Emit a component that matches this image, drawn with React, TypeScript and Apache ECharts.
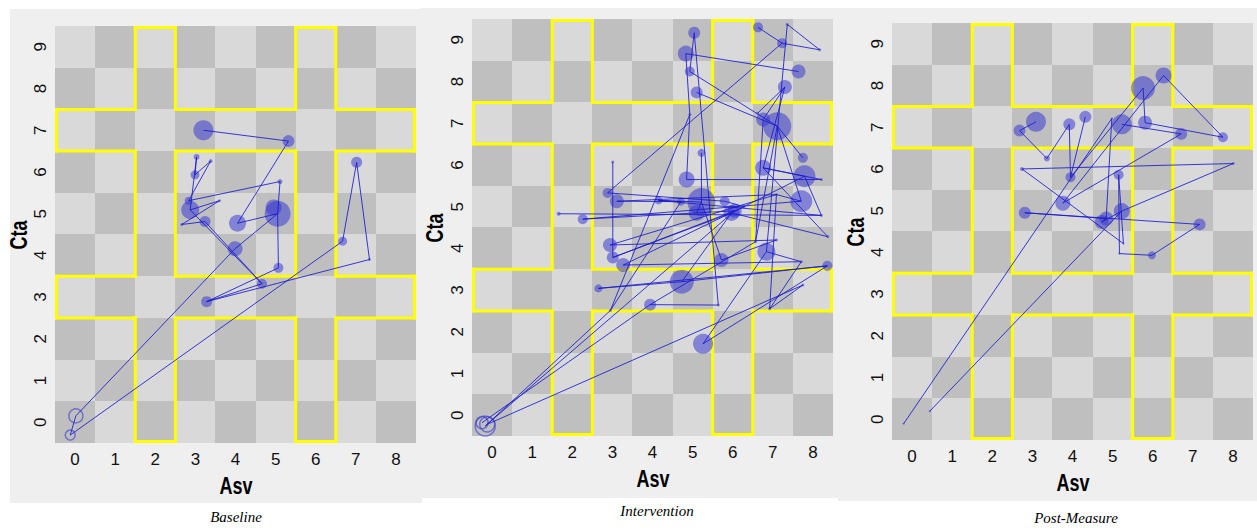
import React, { useEffect, useRef } from 'react';
import * as echarts from 'echarts';

type Pt = [string, number, number, number];

const xTickValues = [0, 1, 2, 3, 4, 5, 6, 7, 8];
const yTickValues = [0, 1, 2, 3, 4, 5, 6, 7, 8, 9];
const panelTitles = ['Baseline', 'Intervention', 'Post-Measure'];
const xAxisName = 'Asv';
const yAxisName = 'Cta';

// Bands of the board (columns and rows outlined in yellow)
const bandColumns = [2, 6];
const bandRows = [3, 7];

// ---------- Baseline ----------
const baselineOpen: Pt[] = [
  ['A', 0.02, 0.15, 14],
  ['B', -0.12, -0.31, 10],
];
const baselineDots: Pt[] = [
  ['C', 3.2, 7.0, 20],
  ['D', 5.32, 6.74, 12],
  ['E', 4.05, 4.77, 17],
  ['F', 5.05, 5.0, 26],
  ['F2', 4.95, 5.15, 16],
  ['G', 5.07, 3.7, 10],
  ['H', 3.28, 2.89, 11],
  ['I', 4.66, 3.32, 10],
  ['J', 3.99, 4.16, 15],
  ['K', 2.87, 5.09, 18],
  ['L', 2.83, 5.31, 8],
  ['M', 3.24, 4.81, 11],
  ['N', 3.03, 6.36, 6],
  ['O', 2.99, 5.93, 9],
  ['P', 3.38, 6.26, 4],
  ['Q', 5.11, 5.77, 5],
  ['R', 3.6, 5.31, 3],
  ['S', 2.66, 4.74, 3],
  ['T', 7.02, 6.23, 11],
  ['U', 6.67, 4.34, 9],
  ['V', 7.34, 3.9, 3],
];
const baselinePaths: string[][] = [
  ['C', 'D', 'E', 'F', 'G', 'H', 'V', 'T', 'U', 'B', 'A', 'J', 'F', 'Q', 'L', 'P', 'O', 'N', 'K', 'R', 'S', 'M', 'I'],
  ['K', 'I'],
  ['H', 'I'],
];

// ---------- Intervention ----------
const interventionOpen: Pt[] = [
  ['o1', -0.17, -0.26, 20],
  ['o2', -0.25, -0.18, 12],
  ['o3', -0.12, -0.22, 15],
];
const interventionDots: Pt[] = [
  ['a', 2.95, 2.51, 3],
  ['b', 3.01, 6.07, 3],
  ['c', 3.01, 3.78, 12],
  ['d', 1.66, 4.83, 4],
  ['e', 2.26, 4.7, 10],
  ['f', 2.88, 5.33, 10],
  ['g', 3.11, 5.13, 14],
  ['h', 2.94, 4.08, 14],
  ['i', 3.27, 3.6, 14],
  ['j', 2.65, 3.04, 8],
  ['k', 3.94, 2.65, 12],
  ['l', 5.64, 2.64, 3],
  ['m', 4.85, 5.65, 16],
  ['n', 5.22, 5.11, 28],
  ['o', 5.1, 4.85, 16],
  ['p', 5.8, 5.13, 10],
  ['q', 5.97, 4.85, 16],
  ['r', 5.72, 3.72, 14],
  ['s', 4.73, 3.2, 24],
  ['t', 6.84, 3.92, 18],
  ['u', 6.76, 5.93, 16],
  ['v', 7.79, 5.73, 22],
  ['w', 7.71, 5.13, 22],
  ['x', 8.21, 4.79, 3],
  ['y', 8.36, 3.58, 10],
  ['z', 8.37, 4.28, 3],
  ['A', 7.71, 3.68, 3],
  ['B', 7.75, 3.12, 3],
  ['C', 7.75, 6.17, 10],
  ['D', 7.09, 5.29, 3],
  ['E', 5.22, 6.29, 8],
  ['F', 6.57, 4.16, 3],
  ['G', 7.09, 4.2, 3],
  ['H', 6.92, 2.55, 3],
  ['I', 5.04, 9.17, 12],
  ['J', 4.83, 8.67, 16],
  ['K', 4.93, 8.24, 10],
  ['L', 5.1, 7.74, 12],
  ['M', 6.63, 9.3, 10],
  ['N', 7.23, 8.92, 10],
  ['O', 7.36, 9.37, 3],
  ['P', 8.17, 8.76, 3],
  ['Q', 7.64, 8.24, 14],
  ['R', 7.3, 7.87, 14],
  ['S', 7.11, 6.93, 28],
  ['T', 6.76, 7.09, 14],
  ['U', 6.62, 7.24, 3],
  ['V', 4.93, 7.21, 3],
  ['W', 8.21, 5.65, 3],
  ['X', 5.26, 1.71, 20],
  ['Y', 4.15, 5.15, 8],
  ['Z', 4.71, 5.12, 8],
  ['AA', 6.28, 5.0, 3],
  ['AB', 6.05, 4.9, 14],
];
const interventionPaths: string[][] = [
  ['o1', 'a', 'V', 'J', 'Q'],
  ['I', 'l', 'k', 'o2'],
  ['K', 'S', 'C'],
  ['o3', 'B', 'H', 'A', 't', 'X', 'y', 's', 'j'],
  ['d', 'x'],
  ['e', 'w', 'D', 'g'],
  ['f', 'p', 'AA', 'i'],
  ['h', 'G', 'r', 'n', 'o'],
  ['b', 'c', 'q', 'z'],
  ['m', 'W', 'u', 'v'],
  ['M', 'N', 'P', 'O', 't'],
  ['L', 'S', 'w'],
  ['E', 'n', 'Y', 'Z'],
  ['U', 'R', 'T', 'F'],
  ['o1', 'AB'],
  ['N', 'f'],
  ['V', 'm'],
  ['I', 'K'],
  ['i', 'A'],
  ['j', 'y'],
  ['Y', 'x'],
  ['e', 'AB', 'c'],
  ['k', 'F', 'S'],
  ['a', 'Z', 'g'],
  ['s', 'q', 'v', 'x'],
  ['R', 'u', 'z'],
  ['h', 'D', 'H'],
];

// ---------- Post-Measure ----------
const postOpen: Pt[] = [];
const postDots: Pt[] = [
  ['a', -0.21, -0.11, 2],
  ['b', 0.44, 0.19, 2],
  ['c', 3.09, 7.13, 20],
  ['d', 2.68, 6.92, 12],
  ['e', 3.36, 6.25, 6],
  ['f', 3.92, 7.07, 12],
  ['g', 4.32, 7.25, 12],
  ['h', 3.95, 5.8, 10],
  ['i', 2.74, 6.0, 4],
  ['j', 8.01, 6.13, 3],
  ['k', 3.76, 5.18, 15],
  ['l', 2.81, 4.95, 12],
  ['m', 7.17, 4.67, 12],
  ['n', 5.98, 3.93, 8],
  ['o', 5.17, 3.97, 2],
  ['p', 5.15, 5.86, 10],
  ['q', 5.23, 4.99, 16],
  ['r', 4.84, 4.81, 14],
  ['s', 4.73, 4.73, 14],
  ['t', 5.27, 4.21, 2],
  ['u', 4.98, 7.21, 2],
  ['v', 5.23, 7.07, 20],
  ['w', 5.76, 7.94, 24],
  ['x', 6.27, 8.24, 16],
  ['y', 5.81, 7.11, 14],
  ['z', 6.71, 6.84, 12],
  ['aa', 7.75, 6.76, 10],
];
const postPaths: string[][] = [
  ['c', 'd', 'e', 'f', 'h', 'g'],
  ['h', 'w', 'y', 'aa', 'x', 'k', 'z', 'v'],
  ['a', 'u', 'r', 'l', 'm', 'n', 'o', 'p', 't', 'i', 'j', 'q', 'b'],
  ['r', 's', 'q'],
];

const panels = [
  { open: baselineOpen, dots: baselineDots, paths: baselinePaths },
  { open: interventionOpen, dots: interventionDots, paths: interventionPaths },
  { open: postOpen, dots: postDots, paths: postPaths },
];

// layout (pixels)
const gridBoxes = [
  { left: 55, top: 26, width: 361, height: 417 },
  { left: 472, top: 19, width: 361, height: 417 },
  { left: 892, top: 23, width: 361, height: 417 },
];
const panelBackgrounds = [
  { x: 10, y: 9, width: 412, height: 494 },
  { x: 420, y: 8, width: 418, height: 490 },
  { x: 838, y: 8, width: 419, height: 493 },
];
const captionPositions = [
  [236, 517],
  [657, 511],
  [1076, 518],
];
const xNamePositions = [
  [236, 486],
  [653, 479],
  [1073, 483],
];
const yNamePositions = [
  [19, 235],
  [435, 228],
  [856, 232],
];

const X_MIN = -0.5, X_MAX = 8.5, Y_MIN = -0.5, Y_MAX = 9.5;
const LIGHT = '#d9d9d9';
const DARK = '#bfbfbf';
const YELLOW = '#ffff00';
const DOT_FILL = 'rgba(55,55,210,0.66)';
const LINE_COLOR = '#1a1ad0';
const SANS = '"Liberation Sans", Arial, sans-serif';

function checkerCells() {
  const cells: number[][] = [];
  xTickValues.forEach((x) => {
    yTickValues.forEach((y) => {
      cells.push([x, y, (x + y) % 2]);
    });
  });
  return cells;
}

function yellowSegments() {
  const xs = [X_MIN, bandColumns[0] - 0.5, bandColumns[0] + 0.5, bandColumns[1] - 0.5, bandColumns[1] + 0.5, X_MAX];
  const ys = [Y_MIN, bandRows[0] - 0.5, bandRows[0] + 0.5, bandRows[1] - 0.5, bandRows[1] + 0.5, Y_MAX];
  const blockX = [[xs[0], xs[1]], [xs[2], xs[3]], [xs[4], xs[5]]];
  const blockY = [[ys[0], ys[1]], [ys[2], ys[3]], [ys[4], ys[5]]];
  const segs: number[][] = [];
  blockX.forEach(([x0, x1]) => {
    blockY.forEach(([y0, y1]) => {
      if (x0 !== X_MIN) segs.push([x0, y0, x0, y1]);
      if (x1 !== X_MAX) segs.push([x1, y0, x1, y1]);
      if (y0 !== Y_MIN) segs.push([x0, y0, x1, y0]);
      if (y1 !== Y_MAX) segs.push([x0, y1, x1, y1]);
    });
  });
  bandColumns.forEach((c) => {
    segs.push([c - 0.5, Y_MAX, c + 0.5, Y_MAX]);
    segs.push([c - 0.5, Y_MIN, c + 0.5, Y_MIN]);
  });
  bandRows.forEach((r) => {
    segs.push([X_MIN, r - 0.5, X_MIN, r + 0.5]);
    segs.push([X_MAX, r - 0.5, X_MAX, r + 0.5]);
  });
  return segs;
}

function buildOption() {
  const grid: any[] = [];
  const xAxis: any[] = [];
  const yAxis: any[] = [];
  const series: any[] = [];
  const cells = checkerCells();
  const segs = yellowSegments();

  const labelCommon = {
    showMinLabel: false,
    showMaxLabel: false,
    formatter: (v: number) => (Number.isInteger(v) ? String(v) : ''),
    fontSize: 17,
    color: '#111',
    fontFamily: SANS,
  };

  panels.forEach((panel, idx) => {
    grid.push({ ...gridBoxes[idx], containLabel: false });
    xAxis.push({
      type: 'value',
      gridIndex: idx,
      min: X_MIN,
      max: X_MAX,
      splitNumber: 9,
      minInterval: 1,
      maxInterval: 1,
      axisLine: { show: false },
      axisTick: { show: false },
      splitLine: { show: false },
      axisLabel: { ...labelCommon, margin: 8 },
    });
    yAxis.push({
      type: 'value',
      gridIndex: idx,
      min: Y_MIN,
      max: Y_MAX,
      splitNumber: 10,
      minInterval: 1,
      maxInterval: 1,
      axisLine: { show: false },
      axisTick: { show: false },
      splitLine: { show: false },
      axisLabel: { ...labelCommon, rotate: 90, margin: 6 },
    });

    series.push({
      type: 'custom',
      xAxisIndex: idx,
      yAxisIndex: idx,
      silent: true,
      z: 1,
      data: cells,
      encode: { x: 0, y: 1 },
      renderItem: (_p: any, api: any) => {
        const x = api.value(0);
        const y = api.value(1);
        const p1 = api.coord([x - 0.5, y + 0.5]);
        const p2 = api.coord([x + 0.5, y - 0.5]);
        const x0 = Math.round(p1[0]);
        const y0 = Math.round(p1[1]);
        return {
          type: 'rect',
          shape: { x: x0, y: y0, width: Math.round(p2[0]) - x0, height: Math.round(p2[1]) - y0 },
          style: { fill: api.value(2) === 0 ? DARK : LIGHT },
        };
      },
    });

    series.push({
      type: 'custom',
      xAxisIndex: idx,
      yAxisIndex: idx,
      silent: true,
      z: 2,
      data: segs,
      encode: { x: [0, 2], y: [1, 3] },
      renderItem: (params: any, api: any) => {
        const cs = params.coordSys;
        const inset = 1.5;
        const clampX = (v: number) => Math.min(Math.max(v, cs.x + inset), cs.x + cs.width - inset);
        const clampY = (v: number) => Math.min(Math.max(v, cs.y + inset), cs.y + cs.height - inset);
        const a = api.coord([api.value(0), api.value(1)]);
        const b = api.coord([api.value(2), api.value(3)]);
        return {
          type: 'line',
          shape: { x1: clampX(a[0]), y1: clampY(a[1]), x2: clampX(b[0]), y2: clampY(b[1]) },
          style: { stroke: YELLOW, lineWidth: 3, lineCap: 'square' },
        };
      },
    });

    series.push({
      type: 'scatter',
      xAxisIndex: idx,
      yAxisIndex: idx,
      silent: true,
      z: 3,
      symbolSize: (v: number[]) => v[2],
      itemStyle: { color: DOT_FILL },
      data: panel.dots.map((p) => [p[1], p[2], p[3]]),
    });

    if (panel.open.length) {
      series.push({
        type: 'scatter',
        xAxisIndex: idx,
        yAxisIndex: idx,
        silent: true,
        z: 3,
        symbolSize: (v: number[]) => v[2],
        itemStyle: { color: 'rgba(0,0,0,0)', borderColor: 'rgba(60,60,210,0.75)', borderWidth: 1.5 },
        data: panel.open.map((p) => [p[1], p[2], p[3]]),
      });
    }

    const lookup = new Map<string, number[]>();
    [...panel.open, ...panel.dots].forEach((p) => lookup.set(p[0], [p[1], p[2]]));
    panel.paths.forEach((path) => {
      series.push({
        type: 'line',
        xAxisIndex: idx,
        yAxisIndex: idx,
        silent: true,
        z: 4,
        symbol: 'none',
        showSymbol: false,
        lineStyle: { color: LINE_COLOR, width: 1, opacity: 0.85 },
        data: path.map((k) => lookup.get(k)),
      });
    });
  });

  const graphicElements: any[] = [];
  panelBackgrounds.forEach((b) => {
    graphicElements.push({
      type: 'rect',
      z: -10,
      silent: true,
      shape: { ...b },
      style: { fill: '#efefef' },
    });
  });
  panelTitles.forEach((t, i) => {
    graphicElements.push({
      type: 'text',
      x: captionPositions[i][0],
      y: captionPositions[i][1],
      silent: true,
      style: {
        text: t,
        font: 'italic 15px "Liberation Serif", "Times New Roman", serif',
        fill: '#000',
        align: 'center',
        verticalAlign: 'middle',
        textAlign: 'center',
        textVerticalAlign: 'middle',
      },
    });
    graphicElements.push({
      type: 'text',
      x: xNamePositions[i][0],
      y: xNamePositions[i][1],
      scaleY: 1.3,
      silent: true,
      style: {
        text: xAxisName,
        font: 'bold 18px ' + SANS,
        fill: '#000',
        align: 'center',
        verticalAlign: 'middle',
        textAlign: 'center',
        textVerticalAlign: 'middle',
      },
    });
    graphicElements.push({
      type: 'text',
      x: yNamePositions[i][0],
      y: yNamePositions[i][1],
      rotation: Math.PI / 2,
      scaleY: 1.3,
      silent: true,
      style: {
        text: yAxisName,
        font: 'bold 18px ' + SANS,
        fill: '#000',
        align: 'center',
        verticalAlign: 'middle',
        textAlign: 'center',
        textVerticalAlign: 'middle',
      },
    });
  });

  return {
    animation: false,
    backgroundColor: '#ffffff',
    graphic: { elements: graphicElements },
    grid,
    xAxis,
    yAxis,
    series,
  };
}

export default function App() {
  const ref = useRef<HTMLDivElement>(null);
  useEffect(() => {
    document.body.style.margin = '0';
    if (!ref.current) return;
    const chart = echarts.init(ref.current, undefined, { renderer: 'svg' });
    chart.setOption(buildOption() as any);
    return () => chart.dispose();
  }, []);
  return <div ref={ref} style={{ width: 1257, height: 528 }} />;
}
